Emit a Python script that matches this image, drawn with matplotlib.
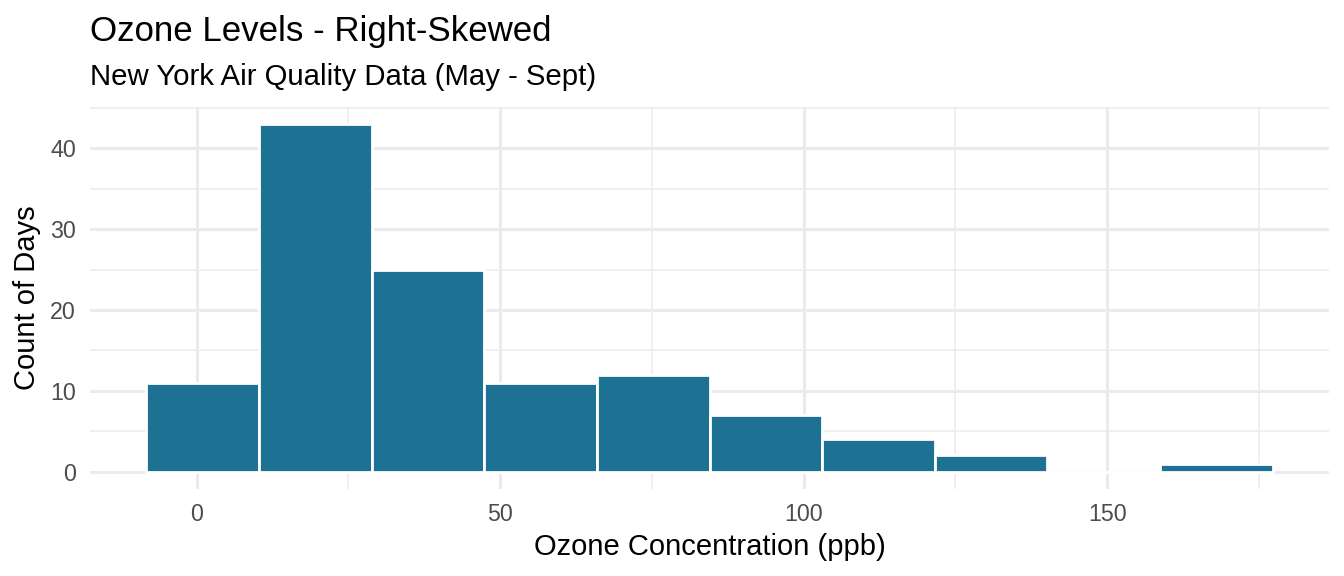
import numpy as np
import matplotlib
matplotlib.use("Agg")
import matplotlib.pyplot as plt
from matplotlib.ticker import MultipleLocator

# Data (airquality Ozone histogram, 10 bins)
ozone_min = 1
ozone_max = 168
n_bins = 10
counts = [11, 43, 25, 11, 12, 7, 4, 2, 0, 1]
x_ticks = [0, 50, 100, 150]
y_ticks = [0, 10, 20, 30, 40]
title = "Ozone Levels - Right-Skewed"
subtitle = "New York Air Quality Data (May - Sept)"
xlabel = "Ozone Concentration (ppb)"
ylabel = "Count of Days"

binwidth = (ozone_max - ozone_min) / (n_bins - 1)
left_edges = ozone_min - binwidth / 2 + binwidth * np.arange(n_bins)

plt.rcParams['font.family'] = ['Liberation Sans', 'DejaVu Sans']

W, H, DPI = 1344, 576, 200
fig = plt.figure(figsize=(W / DPI, H / DPI), dpi=DPI)
L, R, T, B = 90, 1329, 106.7, 489
ax = fig.add_axes([L / W, 1 - B / H, (R - L) / W, (B - T) / H])

bar_color = "#1D7293"
ax.bar(left_edges, counts, width=binwidth, align='edge', color=bar_color,
       edgecolor='white', linewidth=1.0, zorder=3)

lo = left_edges[0]
hi = left_edges[-1] + binwidth
ex = (hi - lo) * 0.05
ax.set_xlim(lo - ex, hi + ex)
ymax = max(counts)
ax.set_ylim(-ymax * 0.05, ymax * 1.05)

ax.set_xticks(x_ticks)
ax.set_yticks(y_ticks)
ax.xaxis.set_minor_locator(MultipleLocator(25))
ax.yaxis.set_minor_locator(MultipleLocator(5))
grid_c = "#EBEBEB"
ax.grid(which='major', color=grid_c, linewidth=1.1, zorder=0)
ax.grid(which='minor', color=grid_c, linewidth=0.55, zorder=0)
ax.set_axisbelow(True)
for s in ax.spines.values():
    s.set_visible(False)
ax.tick_params(which='both', length=0)
ax.tick_params(axis='x', pad=5.2, labelsize=8.4, labelcolor='#4D4D4D')
ax.tick_params(axis='y', pad=5.0, labelsize=8.4, labelcolor='#4D4D4D')

fig.text(L / W, 1 - 40.7 / H, title, fontsize=12.55, ha='left', va='baseline', color='black')
fig.text(L / W, 1 - 85 / H, subtitle, fontsize=10.6, ha='left', va='baseline', color='black')
fig.text((L + R) / 2 / W, 1 - 555 / H, xlabel, fontsize=10.5, ha='center', va='baseline')
fig.text(27 / W, 1 - (T + B) / 2 / H, ylabel, fontsize=10.5, ha='center', va='center', rotation=90)

fig.savefig("out.png", dpi=DPI, facecolor='white')
